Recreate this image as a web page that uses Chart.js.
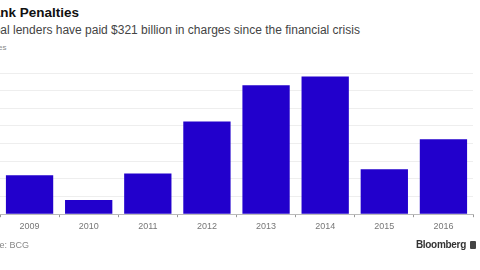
<!DOCTYPE html>
<html>
<head>
<meta charset="utf-8">
<script src="https://cdn.jsdelivr.net/npm/chart.js@4"></script>
<style>
  html, body { margin: 0; padding: 0; background: #fff; overflow: hidden; }
  body { width: 480px; height: 270px; position: relative; font-family: "Liberation Sans", Arial, sans-serif; }
  .txt { position: absolute; white-space: nowrap; }
  #title { left: -17px; top: 5px; font-size: 13.5px; font-weight: bold; color: #111; }
  #subtitle { left: -25px; top: 23px; font-size: 12px; color: #444; }
  #unit { left: -13px; top: 43px; font-size: 8px; color: #888; }
  #source { left: -24px; top: 240px; font-size: 9px; color: #888; }
  #logo { right: 4px; top: 239px; font-size: 10px; font-weight: bold; color: #333; letter-spacing: -0.3px; }
  #logo span { display: inline-block; width: 6px; height: 8px; background: #444; margin-left: 4px; border-radius: 1px; vertical-align: -1px; }
  #wrap { position: absolute; left: 0; top: 0; width: 480px; height: 270px; }
</style>
</head>
<body>
<div class="txt" id="title">Bank Penalties</div>
<div class="txt" id="subtitle">Global lenders have paid $321 billion in charges since the financial crisis</div>
<div class="txt" id="unit">Fines</div>
<div id="wrap"><canvas id="penaltyChart"></canvas></div>
<div class="txt" id="source">Source: BCG</div>
<div class="txt" id="logo">Bloomberg<span></span></div>

<script>
var years = ['2009', '2010', '2011', '2012', '2013', '2014', '2015', '2016'];
var penalties = [22, 8, 23, 52.5, 73, 78, 25.4, 42.4]; // billions of dollars
var yTicks = [0, 10, 20, 30, 40, 50, 60, 70, 80];

document.addEventListener('DOMContentLoaded', function() {
  var ctx = document.getElementById('penaltyChart').getContext('2d');
  var chart = new Chart(ctx, {
    type: 'bar',
    data: {
      labels: years,
      datasets: [{
        data: penalties,
        backgroundColor: '#2200cc',
        barPercentage: 0.8,
        categoryPercentage: 1.0
      }]
    },
    options: {
      responsive: true,
      maintainAspectRatio: false,
      animation: false,
      layout: {
        padding: { top: 73, bottom: 34, left: 0, right: 7 }
      },
      plugins: {
        legend: { display: false },
        tooltip: { enabled: false }
      },
      scales: {
        x: {
          grid: { drawOnChartArea: false, drawTicks: true, tickLength: 3, color: '#999' },
          border: { display: true, color: '#bbb' },
          ticks: { color: '#777', font: { family: 'Liberation Sans', size: 9 }, padding: 4 }
        },
        y: {
          min: yTicks[0],
          max: yTicks[yTicks.length - 1],
          afterBuildTicks: function(axis) {
            axis.ticks = yTicks.map(function(v) { return { value: v }; });
          },
          grid: { color: '#eeeeee', drawTicks: false },
          border: { display: false },
          ticks: { display: false }
        }
      }
    }
  });
});
</script>
</body>
</html>
